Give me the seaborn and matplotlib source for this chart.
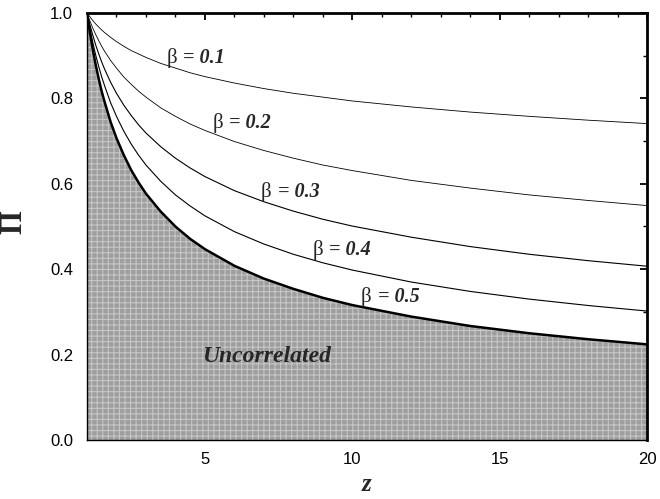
import numpy as np
import pandas as pd
import matplotlib
matplotlib.use("Agg")
import matplotlib.pyplot as plt
from matplotlib.ticker import MultipleLocator
import seaborn as sns

# ---- data ----
z = [1, 1.1, 1.2, 1.3, 1.4, 1.5, 1.6, 1.8, 2, 2.25, 2.5, 2.75, 3, 3.5, 4, 4.5, 5,
     6, 7, 8, 9, 10, 12, 14, 16, 18, 20]
pi_b01 = [1.000, 0.991, 0.982, 0.974, 0.967, 0.960, 0.954, 0.943, 0.933, 0.922, 0.912,
          0.904, 0.896, 0.882, 0.871, 0.860, 0.851,
          0.836, 0.823, 0.812, 0.803, 0.794, 0.780, 0.768, 0.758, 0.749, 0.741]
pi_b02 = [1.000, 0.981, 0.964, 0.949, 0.935, 0.922, 0.910, 0.889, 0.871, 0.850, 0.833,
          0.817, 0.803, 0.778, 0.758, 0.740, 0.725,
          0.699, 0.678, 0.660, 0.644, 0.631, 0.608, 0.590, 0.574, 0.561, 0.549]
pi_b03 = [1.000, 0.972, 0.947, 0.924, 0.904, 0.885, 0.868, 0.838, 0.812, 0.784, 0.760,
          0.738, 0.719, 0.687, 0.660, 0.637, 0.617,
          0.584, 0.558, 0.536, 0.517, 0.501, 0.475, 0.453, 0.435, 0.420, 0.407]
pi_b04 = [1.000, 0.963, 0.930, 0.900, 0.874, 0.850, 0.829, 0.790, 0.758, 0.723, 0.693,
          0.667, 0.644, 0.606, 0.574, 0.548, 0.525,
          0.488, 0.459, 0.435, 0.415, 0.398, 0.370, 0.348, 0.330, 0.315, 0.302]
pi_b05 = [1.000, 0.953, 0.913, 0.877, 0.845, 0.816, 0.791, 0.745, 0.707, 0.667, 0.632,
          0.603, 0.577, 0.535, 0.500, 0.471, 0.447,
          0.408, 0.378, 0.354, 0.333, 0.316, 0.289, 0.267, 0.250, 0.236, 0.224]
beta_names = ["0.1", "0.2", "0.3", "0.4", "0.5"]
label_z = [3.7, 5.25, 6.9, 8.65, 10.3]
label_pi = [0.884, 0.731, 0.570, 0.433, 0.324]
region_text = "Uncorrelated"
x_ticks = [5, 10, 15, 20]
y_ticks = [0.0, 0.2, 0.4, 0.6, 0.8, 1.0]

series = [pi_b01, pi_b02, pi_b03, pi_b04, pi_b05]
df = pd.concat([pd.DataFrame({"z": z, "Pi": s, "beta": b}) for s, b in zip(series, beta_names)],
               ignore_index=True)

sns.set_style("white")
plt.rcParams["font.family"] = ["Liberation Sans", "DejaVu Sans"]
plt.rcParams["hatch.linewidth"] = 0.8

fig = plt.figure(figsize=(6.6, 4.99), dpi=100)
ax = fig.add_axes([87/660, 59/499, 560/660, 427/499])

# shaded region under beta = 0.5
ax.fill_between(z, 0, pi_b05, facecolor="#9e9e9e", edgecolor="#c6c6c6",
                hatch="+++", linewidth=0, zorder=1)

sns.lineplot(data=df, x="z", y="Pi", hue="beta", size="beta",
             palette=["black"] * 5,
             sizes={"0.1": 0.6, "0.2": 0.6, "0.3": 0.8, "0.4": 0.8, "0.5": 1.8},
             legend=False, ax=ax, zorder=3, estimator=None, sort=False)

serif = ["Liberation Serif", "DejaVu Serif"]
for b, lx, ly in zip(beta_names, label_z, label_pi):
    ax.text(lx, ly, "β", family=serif, fontsize=15,
            va="baseline", ha="left", zorder=5)
    ax.annotate("= " + b, xy=(lx, ly), xytext=(12, 0), textcoords="offset points",
                family=serif, fontsize=14.5,
                style="italic", weight="bold", va="baseline", ha="left", zorder=5)

ax.text(7.1, 0.195, region_text, family=serif,
        fontsize=17, style="italic", weight="bold", ha="center", va="center", zorder=5)

ax.set_xlim(1, 20)
ax.set_ylim(0, 1)
ax.set_xticks(x_ticks)
ax.set_yticks(y_ticks)
ax.set_yticklabels([f"{v:.1f}" for v in y_ticks])
ax.xaxis.set_minor_locator(MultipleLocator(1))
ax.yaxis.set_minor_locator(MultipleLocator(0.1))
ax.tick_params(which="both", direction="in", top=True, right=True,
               bottom=False, left=False, labelsize=12, colors="black")
ax.tick_params(which="major", length=5, width=1.3)
ax.tick_params(which="minor", length=3, width=1.0)
ax.tick_params(axis="y", pad=10)
ax.tick_params(axis="x", pad=9)

for side in ["left", "bottom"]:
    ax.spines[side].set_linewidth(1.0)
    ax.spines[side].set_color("black")
for side in ["top", "right"]:
    ax.spines[side].set_linewidth(2.0)
    ax.spines[side].set_color("black")

ax.set_xlabel("z", family=serif, fontsize=18, style="italic", weight="bold")
ax.set_ylabel("Π", family=serif, fontsize=22, weight="bold")
ax.xaxis.set_label_coords(0.5, -0.078)
ax.yaxis.set_label_coords(-0.105, 0.51)

fig.savefig("out.png", dpi=100)
